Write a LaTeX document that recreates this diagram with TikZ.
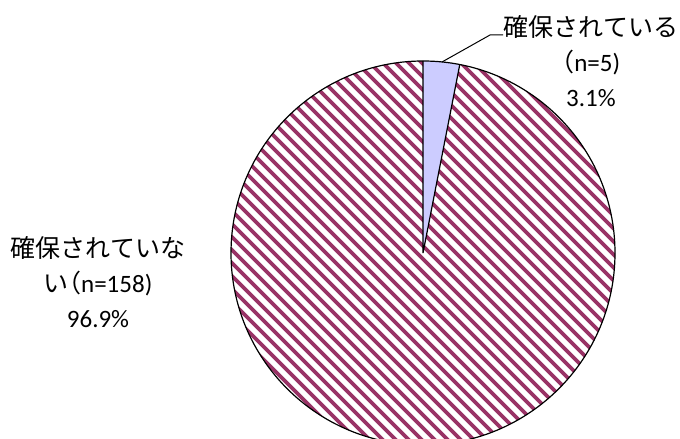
\documentclass[tikz,border=0pt]{standalone}
\usepackage{fontspec}
\setmainfont{Carlito}
\newfontfamily\jp{Noto Sans CJK JP}
\newfontfamily\jph[RawFeature=+halt]{Noto Sans CJK JP}
\usetikzlibrary{calc}
\definecolor{hatchpurple}{HTML}{993366}
\definecolor{sliceblue}{HTML}{CCCCFF}
\tikzset{
  hatchline/.style={draw=hatchpurple, line width=3.8pt},
  outline/.style={draw=black, line width=1.2pt},
  lbl/.style={align=center, font=\fontsize{25}{35}\selectfont, inner sep=0pt},
  leader/.style={draw=black, line width=1pt}
}
\begin{document}
\begin{tikzpicture}[x=1pt,y=1pt]
\useasboundingbox (0,0) rectangle (680,439);
\coordinate (c) at (423,186);
\def\R{192}
% blue slice
\fill[sliceblue] (c) -- ($(c)+(90:\R)$) arc[start angle=90, end angle=78.96, radius=\R] -- cycle;
% hatched slice
\begin{scope}
  \clip (c) -- ($(c)+(78.96:\R)$) arc[start angle=78.96, end angle=-270, radius=\R] -- cycle;
  \foreach \k in {-30,...,60} {
    \draw[hatchline] (\k*13, 460) -- ++(520,-520);
  }
\end{scope}
% outlines
\draw[outline] (c) circle[radius=\R];
\draw[outline] ($(c)+(90:\R)$) -- (c) -- ($(c)+(78.96:\R)$);
% labels
\node[lbl] (top) at (591,378) {{\jp 確保されている}\\{\jph （}n=5)\\3.1\%};
\node[lbl] (left) at (98,157) {{\jp 確保されていな}\\{\jp い}{\jph （}n=158)\\96.9\%};
% leader
\coordinate (p) at ($(c)+(84.3:\R)$);
\coordinate (k) at (490,404);
\coordinate (k2) at (503,404);
\draw[leader] (p) -- (k) -- (k2);
\end{tikzpicture}
\end{document}
